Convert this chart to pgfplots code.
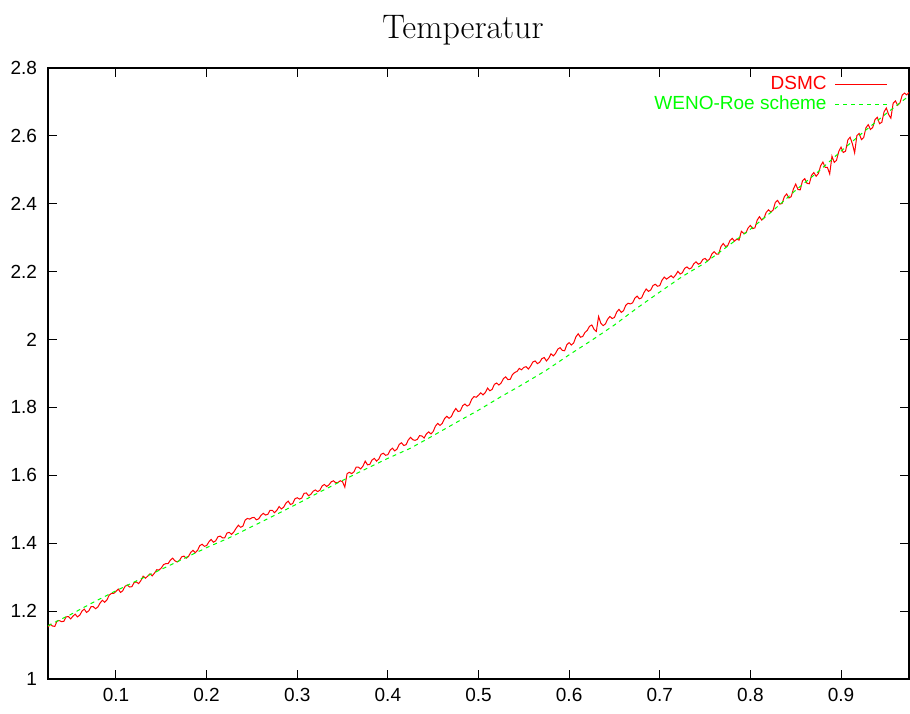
\documentclass[border=0pt]{standalone}
\usepackage{pgfplots}
\pgfplotsset{compat=1.18}
\usepackage{pgfplotstable}
\usepackage{fontspec}
\newfontfamily\arial{Liberation Sans}
\definecolor{gpred}{rgb}{1,0,0}
\definecolor{gpgreen}{rgb}{0,1,0}

\pgfplotstableread{
x y
0.025 1.153
0.0275 1.161
0.030 1.156
0.0325 1.155
0.035 1.171
0.0375 1.172
0.040 1.169
0.0425 1.170
0.045 1.183
0.0475 1.184
0.050 1.177
0.0525 1.185
0.055 1.191
0.0575 1.183
0.060 1.188
0.0625 1.200
0.065 1.206
0.0675 1.196
0.070 1.201
0.0725 1.213
0.075 1.213
0.0775 1.207
0.080 1.212
0.0825 1.224
0.085 1.232
0.0875 1.226
0.090 1.233
0.0925 1.247
0.095 1.252
0.0975 1.252
0.100 1.258
0.1025 1.265
0.105 1.255
0.1075 1.260
0.110 1.273
0.1125 1.277
0.115 1.271
0.1175 1.272
0.120 1.284
0.1225 1.286
0.125 1.281
0.1275 1.290
0.130 1.303
0.1325 1.297
0.135 1.303
0.1375 1.310
0.140 1.304
0.1425 1.312
0.145 1.322
0.1475 1.321
0.150 1.327
0.1525 1.337
0.155 1.340
0.1575 1.340
0.160 1.350
0.1625 1.356
0.165 1.348
0.1675 1.345
0.170 1.349
0.1725 1.360
0.175 1.362
0.1775 1.356
0.180 1.361
0.1825 1.373
0.185 1.379
0.1875 1.372
0.190 1.379
0.1925 1.393
0.195 1.397
0.1975 1.391
0.200 1.393
0.2025 1.404
0.205 1.411
0.2075 1.403
0.210 1.407
0.2125 1.419
0.215 1.421
0.2175 1.416
0.220 1.416
0.2225 1.430
0.225 1.432
0.2275 1.426
0.230 1.433
0.2325 1.444
0.235 1.453
0.2375 1.447
0.240 1.450
0.2425 1.468
0.245 1.473
0.2475 1.471
0.250 1.475
0.2525 1.476
0.255 1.469
0.2575 1.472
0.260 1.482
0.2625 1.488
0.265 1.483
0.2675 1.485
0.270 1.497
0.2725 1.497
0.275 1.490
0.2775 1.497
0.280 1.508
0.2825 1.501
0.285 1.506
0.2875 1.518
0.290 1.524
0.2925 1.514
0.295 1.517
0.2975 1.531
0.300 1.534
0.3025 1.530
0.305 1.533
0.3075 1.547
0.310 1.548
0.3125 1.540
0.315 1.544
0.3175 1.553
0.320 1.557
0.3225 1.552
0.325 1.556
0.3275 1.569
0.330 1.573
0.3325 1.567
0.335 1.572
0.3375 1.581
0.340 1.584
0.3425 1.578
0.345 1.579
0.3475 1.584
0.350 1.581
0.3525 1.565
0.355 1.605
0.3575 1.609
0.360 1.605
0.3625 1.610
0.365 1.624
0.3675 1.624
0.370 1.619
0.3725 1.627
0.375 1.642
0.3775 1.631
0.380 1.632
0.3825 1.645
0.385 1.650
0.3875 1.642
0.390 1.648
0.3925 1.662
0.395 1.665
0.3975 1.659
0.400 1.661
0.4025 1.674
0.405 1.680
0.4075 1.672
0.410 1.677
0.4125 1.691
0.415 1.696
0.4175 1.688
0.420 1.690
0.4225 1.704
0.425 1.712
0.4275 1.705
0.430 1.703
0.4325 1.706
0.435 1.717
0.4375 1.716
0.440 1.710
0.4425 1.722
0.445 1.728
0.4475 1.722
0.450 1.729
0.4525 1.745
0.455 1.753
0.4575 1.747
0.460 1.753
0.4625 1.767
0.465 1.774
0.4675 1.768
0.470 1.773
0.4725 1.787
0.475 1.797
0.4775 1.788
0.480 1.790
0.4825 1.805
0.485 1.810
0.4875 1.804
0.490 1.808
0.4925 1.824
0.495 1.832
0.4975 1.830
0.500 1.836
0.5025 1.843
0.505 1.837
0.5075 1.844
0.510 1.857
0.5125 1.849
0.515 1.853
0.5175 1.868
0.520 1.872
0.5225 1.866
0.525 1.872
0.5275 1.885
0.530 1.890
0.5325 1.882
0.535 1.883
0.5375 1.897
0.540 1.903
0.5425 1.906
0.545 1.915
0.5475 1.911
0.550 1.918
0.5525 1.920
0.555 1.913
0.5575 1.922
0.560 1.934
0.5625 1.937
0.565 1.929
0.5675 1.933
0.570 1.944
0.5725 1.947
0.575 1.937
0.5775 1.945
0.580 1.958
0.5825 1.952
0.585 1.959
0.5875 1.972
0.590 1.976
0.5925 1.968
0.595 1.967
0.5975 1.985
0.600 1.991
0.6025 1.984
0.605 1.990
0.6075 2.008
0.610 2.017
0.6125 2.007
0.615 2.009
0.6175 2.021
0.620 2.027
0.6225 2.039
0.625 2.043
0.6275 2.030
0.630 2.024
0.6325 2.068
0.635 2.048
0.6375 2.041
0.640 2.046
0.6425 2.060
0.645 2.068
0.6475 2.062
0.650 2.065
0.6525 2.081
0.655 2.089
0.6575 2.080
0.660 2.085
0.6625 2.101
0.665 2.107
0.6675 2.105
0.670 2.108
0.6725 2.122
0.675 2.128
0.6775 2.120
0.680 2.123
0.6825 2.138
0.685 2.149
0.6875 2.142
0.690 2.146
0.6925 2.159
0.695 2.163
0.6975 2.157
0.700 2.159
0.7025 2.175
0.705 2.184
0.7075 2.178
0.710 2.183
0.7125 2.188
0.715 2.182
0.7175 2.190
0.720 2.201
0.7225 2.193
0.725 2.197
0.7275 2.210
0.730 2.214
0.7325 2.208
0.735 2.211
0.7375 2.223
0.740 2.229
0.7425 2.222
0.745 2.225
0.7475 2.236
0.750 2.239
0.7525 2.232
0.755 2.237
0.7575 2.252
0.760 2.259
0.7625 2.252
0.765 2.252
0.7675 2.274
0.770 2.283
0.7725 2.274
0.775 2.277
0.7775 2.292
0.780 2.298
0.7825 2.290
0.785 2.296
0.7875 2.293
0.790 2.319
0.7925 2.313
0.795 2.314
0.7975 2.329
0.800 2.336
0.8025 2.327
0.805 2.329
0.8075 2.352
0.810 2.362
0.8125 2.352
0.815 2.358
0.8175 2.375
0.820 2.382
0.8225 2.376
0.825 2.381
0.8275 2.404
0.830 2.410
0.8325 2.399
0.835 2.401
0.8375 2.421
0.840 2.429
0.8425 2.417
0.845 2.421
0.8475 2.444
0.850 2.458
0.8525 2.442
0.855 2.441
0.8575 2.468
0.860 2.474
0.8625 2.460
0.865 2.459
0.8675 2.484
0.870 2.492
0.8725 2.481
0.875 2.489
0.8775 2.512
0.880 2.523
0.8825 2.507
0.885 2.507
0.8875 2.488
0.890 2.540
0.8925 2.522
0.895 2.528
0.8975 2.554
0.900 2.567
0.9025 2.551
0.905 2.555
0.9075 2.588
0.910 2.596
0.9125 2.577
0.915 2.550
0.9175 2.601
0.920 2.607
0.9225 2.589
0.925 2.595
0.9275 2.624
0.930 2.633
0.9325 2.619
0.935 2.625
0.9375 2.648
0.940 2.655
0.9425 2.636
0.945 2.640
0.9475 2.671
0.950 2.682
0.9525 2.663
0.955 2.652
0.9575 2.696
0.960 2.703
0.9625 2.690
0.965 2.697
0.9675 2.720
0.970 2.726
0.9725 2.721
0.975 2.728
}\dsmc

\pgfplotstableread{
x y
0.025 1.157
0.050 1.190
0.075 1.226
0.100 1.260
0.125 1.292
0.150 1.323
0.175 1.355
0.200 1.387
0.225 1.416
0.250 1.449
0.275 1.482
0.300 1.516
0.325 1.551
0.350 1.585
0.375 1.618
0.400 1.650
0.425 1.680
0.450 1.717
0.475 1.755
0.500 1.792
0.525 1.832
0.550 1.870
0.575 1.910
0.600 1.955
0.625 1.998
0.650 2.043
0.675 2.093
0.700 2.140
0.725 2.186
0.750 2.226
0.775 2.275
0.800 2.325
0.825 2.380
0.850 2.440
0.875 2.495
0.900 2.555
0.925 2.612
0.950 2.666
0.975 2.718
}\weno

\begin{document}
\begin{tikzpicture}
\begin{axis}[
  scale only axis,
  width=430.5pt, height=305.5pt,
  xmin=0.025, xmax=0.975,
  ymin=1, ymax=2.8,
  xtick={0.1,0.2,0.3,0.4,0.5,0.6,0.7,0.8,0.9},
  ytick={1,1.2,1.4,1.6,1.8,2,2.2,2.4,2.6,2.8},
  tick align=inside,
  major tick length=4.5pt,
  tick style={black, line width=0.5pt},
  axis line style={black, line width=0.6pt},
  /pgf/number format/assume math mode=true,
  ticklabel style={font=\arial\fontsize{9.5}{11}\selectfont},
  xticklabel style={yshift=-1pt},
  yticklabel style={xshift=-2pt},
  title={Temperatur},
  title style={font=\fontsize{17}{20}\selectfont, at={(axis description cs:0.482,1)}, anchor=base, yshift=8.5pt},
  legend plot pos=right,
  legend cell align=right,
  legend style={draw=none, fill=none, at={(axis description cs:0.9756,0.993)}, anchor=north east,
    font=\arial\fontsize{9.5}{11}\selectfont, row sep=-2.5pt, inner sep=0pt,
    /tikz/every odd column/.append style={column sep=2pt}},
  clip=true,
]
\addplot[gpred, line width=0.5pt,
  legend image code/.code={\draw[gpred, line width=0.5pt] (0pt,0pt) -- (26pt,0pt);}] table[x=x,y=y] {\dsmc};
\addlegendentry[text=gpred]{DSMC}
\addplot[gpgreen, line width=0.5pt, dash pattern=on 2pt off 2pt,
  legend image code/.code={\draw[gpgreen, line width=0.5pt, dash pattern=on 2pt off 2pt] (0pt,0pt) -- (26pt,0pt);}] table[x=x,y=y] {\weno};
\addlegendentry[text=gpgreen]{WENO-Roe scheme}
\end{axis}
\path ([xshift=-24pt,yshift=-17pt]current axis.south west) rectangle ([xshift=0.5pt,yshift=34pt]current axis.north east);
\end{tikzpicture}
\end{document}
